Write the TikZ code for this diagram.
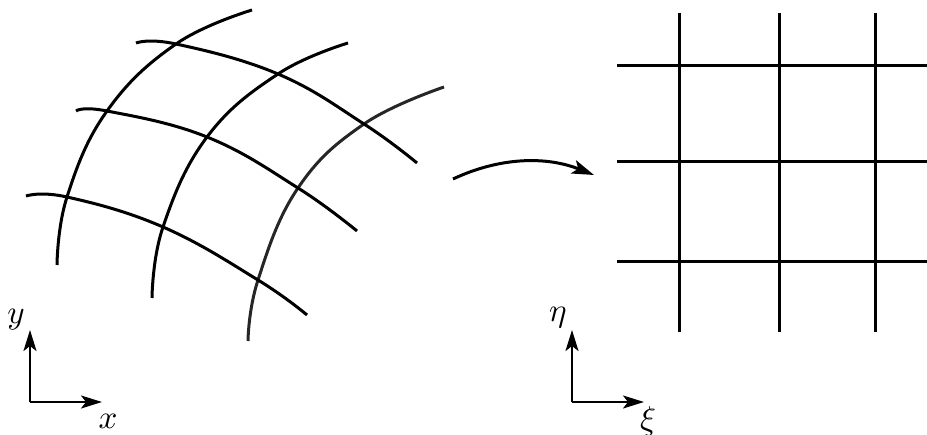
\documentclass[tikz,border=0pt]{standalone}
\usetikzlibrary{arrows.meta}
\tikzset{
  gridline/.style={line width=3pt, line cap=butt},
  arcline/.style={line width=3pt, line cap=butt},
  axisarrow/.style={line width=2.4pt, -{Stealth[length=21pt,width=13pt,inset=5pt]}},
  maparrow/.style={line width=3pt, -{Stealth[length=22pt,width=14pt,inset=5pt]}},
  lbl/.style={inner sep=0pt, scale=3.3}
}
\begin{document}
\begin{tikzpicture}[x=1pt,y=-1pt]
\useasboundingbox (0,0) rectangle (927,435);
% left curvilinear grid: arcs
\draw[arcline] plot[smooth, tension=0.7] coordinates {(252,10) (176,44) (107,111) (67,197) (57,265)};
\draw[arcline] plot[smooth, tension=0.7] coordinates {(348,43) (278,74) (207,137) (163,227) (152,298)};
\draw[arcline, black!85] plot[smooth, tension=0.7] coordinates {(444,87) (364,124) (298,188) (258,280) (248,341)};
% left grid: cross curves
\draw[arcline] plot[smooth, tension=0.7] coordinates {(136,43) (176,44) (278,74) (364,124) (417,163)};
\draw[arcline] plot[smooth, tension=0.7] coordinates {(76,111) (107,111) (207,137) (298,188) (357,231)};
\draw[arcline] plot[smooth, tension=0.7] coordinates {(26,196) (67,197) (163,227) (258,280) (307,315)};
% right cartesian grid
\foreach \xx in {679,779,875} \draw[gridline] (\xx,13) -- (\xx,332);
\foreach \yy in {66,162,262} \draw[gridline] (617,\yy) -- (927,\yy);
% mapping arrow
\coordinate (ms) at (453,179);
\coordinate (me) at (594,175);
\draw[maparrow] (ms) .. controls (500,157) and (546,156) .. (me);
% left axes
\coordinate (o1) at (30,402);
\coordinate (y1) at (30,330);
\coordinate (x1) at (102,402);
\draw[axisarrow] (o1) -- (y1);
\draw[axisarrow] (o1) -- (x1);
\node[lbl] (ylab) at (16,320) {$y$};
\node[lbl] (xlab) at (108,421) {$x$};
% right axes
\coordinate (o2) at (572,402);
\coordinate (y2) at (572,330);
\coordinate (x2) at (644,402);
\draw[axisarrow] (o2) -- (y2);
\draw[axisarrow] (o2) -- (x2);
\node[lbl] (etalab) at (558,318) {$\eta$};
\node[lbl] (xilab) at (648,421) {$\xi$};
\end{tikzpicture}
\end{document}
